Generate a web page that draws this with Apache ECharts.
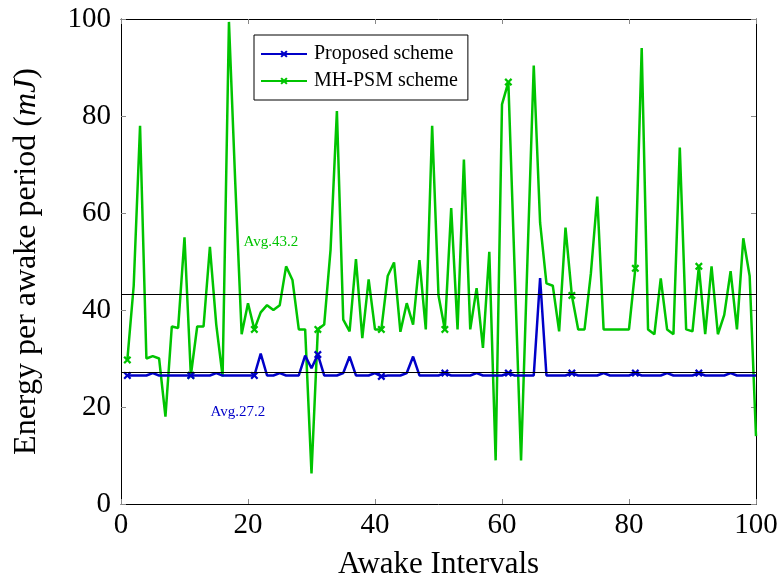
<!DOCTYPE html>
<html>
<head>
<meta charset="utf-8">
<script src="https://cdn.jsdelivr.net/npm/echarts@6/dist/echarts.min.js"></script>
<style>html,body{margin:0;padding:0;background:#fff}#c{width:783px;height:585px}</style>
</head>
<body>
<div id="c"></div>
<script>
// Awake interval indices 1..100
const intervals = [];
for (let i = 1; i <= 100; i++) intervals.push(i);

const proposed = [
  26.5, 26.5, 26.5, 26.5, 27.0, 26.5, 26.5, 26.5, 26.5, 26.5,
  26.5, 26.5, 26.5, 26.5, 27.0, 26.5, 26.5, 26.5, 26.5, 26.5,
  26.5, 31.0, 26.5, 26.5, 27.0, 26.5, 26.5, 26.5, 30.6, 28.0,
  30.8, 26.5, 26.5, 26.5, 27.0, 30.4, 26.5, 26.5, 26.5, 27.0,
  26.3, 26.5, 26.5, 26.5, 27.0, 30.4, 26.5, 26.5, 26.5, 26.5,
  27.0, 26.5, 26.5, 26.5, 26.5, 27.0, 26.5, 26.5, 26.5, 26.5,
  27.0, 26.5, 26.5, 26.5, 26.5, 46.6, 26.5, 26.5, 26.5, 26.5,
  27.0, 26.5, 26.5, 26.5, 26.5, 27.0, 26.5, 26.5, 26.5, 26.5,
  27.0, 26.5, 26.5, 26.5, 26.5, 27.0, 26.5, 26.5, 26.5, 26.5,
  27.0, 26.5, 26.5, 26.5, 26.5, 27.0, 26.5, 26.5, 26.5, 26.5
];

const mhpsm = [
  29.7, 45.0, 78.0, 30.0, 30.5, 30.0, 18.0, 36.6, 36.3, 55.0,
  26.5, 36.6, 36.6, 53.0, 37.0, 26.3, 99.4, 66.0, 35.0, 41.4,
  36.0, 39.5, 41.0, 40.0, 41.0, 49.0, 46.2, 36.0, 36.0, 6.3,
  36.0, 37.0, 52.4, 81.0, 38.0, 35.6, 50.5, 34.2, 46.3, 36.0,
  36.0, 47.0, 49.8, 35.5, 41.4, 37.0, 50.3, 36.0, 78.0, 43.0,
  36.0, 61.0, 36.0, 71.0, 36.0, 44.5, 32.2, 52.0, 9.0, 82.4,
  87.0, 48.0, 9.0, 50.0, 90.4, 58.0, 45.5, 45.0, 35.6, 57.0,
  43.0, 36.0, 36.0, 47.6, 63.4, 36.0, 36.0, 36.0, 36.0, 36.0,
  48.6, 94.0, 36.0, 35.0, 46.5, 36.0, 35.0, 73.5, 36.0, 35.6,
  49.0, 35.0, 49.0, 35.0, 39.0, 48.0, 36.0, 54.8, 47.0, 14.0
];

const avgProposed = 27.2;
const avgMhpsm = 43.2;
const xTicks = [0, 20, 40, 60, 80, 100];
const yTicks = [0, 20, 40, 60, 80, 100];

const BLUE = '#0000c8';
const GREEN = '#00c400';
const FONT = '"Liberation Serif", "DejaVu Serif", serif';
const XSYM = 'path://M2,0 L5,3 L8,0 L10,2 L7,5 L10,8 L8,10 L5,7 L2,10 L0,8 L3,5 L0,2 Z';

function buildData(vals) {
  return vals.map((v, i) => {
    const item = { value: [intervals[i], v] };
    if (i % 10 !== 0) item.symbol = 'none';
    return item;
  });
}

const chart = echarts.init(document.getElementById('c'), null, { renderer: 'canvas' });

const axisCommon = {
  type: 'value', min: 0, max: 100, interval: 20,
  splitLine: { show: false },
  axisLine: { show: true, onZero: false, lineStyle: { color: '#000', width: 1 } },
  axisTick: { show: true, inside: true, length: 5, lineStyle: { color: '#888', width: 1 } }
};

chart.setOption({
  animation: false,
  backgroundColor: '#fff',
  grid: { left: 121, right: 27, top: 19, bottom: 80, containLabel: false },
  legend: {
    orient: 'vertical',
    left: 254, top: 35,
    padding: [9, 10, 9, 6],
    itemGap: 7,
    itemWidth: 46, itemHeight: 9,
    borderColor: '#000', borderWidth: 1,
    backgroundColor: '#fff',
    textStyle: { fontFamily: FONT, fontSize: 20, color: '#000', padding: [0, 0, 0, 2] },
    data: ['Proposed scheme', 'MH-PSM scheme']
  },
  xAxis: [
    Object.assign({}, axisCommon, {
      position: 'bottom',
      name: 'Awake Intervals', nameLocation: 'middle', nameGap: 45,
      nameTextStyle: { fontFamily: FONT, fontSize: 31, color: '#000' },
      axisLabel: { fontFamily: FONT, fontSize: 29, color: '#000', margin: 7,
        formatter: v => xTicks.includes(v) ? String(v) : '' }
    }),
    Object.assign({}, axisCommon, { position: 'top', axisLabel: { show: false } })
  ],
  yAxis: [
    Object.assign({}, axisCommon, {
      position: 'left',
      name: 'Energy per awake period ({i|mJ})', nameLocation: 'middle', nameGap: 78,
      nameTextStyle: { fontFamily: FONT, fontSize: 32, color: '#000',
        rich: { i: { fontFamily: FONT, fontSize: 32, fontStyle: 'italic', color: '#000' } } },
      axisLabel: { fontFamily: FONT, fontSize: 29, color: '#000', margin: 10,
        formatter: v => yTicks.includes(v) ? String(v) : '' }
    }),
    Object.assign({}, axisCommon, { position: 'right', axisLabel: { show: false } })
  ],
  series: [
    {
      name: 'Proposed scheme', type: 'line',
      data: buildData(proposed),
      color: BLUE,
      symbol: XSYM, symbolSize: 8, showSymbol: true, showAllSymbol: true,
      lineStyle: { color: BLUE, width: 2.5 },
      itemStyle: { color: BLUE },
      z: 4,
      markLine: {
        silent: true, symbol: 'none', animation: false,
        lineStyle: { color: '#000', width: 1, type: 'solid' },
        label: { show: false },
        data: [{ yAxis: avgProposed }]
      },
      markPoint: {
        symbol: 'circle', symbolSize: 0,
        label: { show: true, position: 'right', distance: 0, color: BLUE,
          fontFamily: FONT, fontSize: 15, formatter: 'Avg.' + avgProposed },
        data: [{ coord: [14.1, 19.0] }]
      }
    },
    {
      name: 'MH-PSM scheme', type: 'line',
      data: buildData(mhpsm),
      color: GREEN,
      symbol: XSYM, symbolSize: 8, showSymbol: true, showAllSymbol: true,
      lineStyle: { color: GREEN, width: 2.5 },
      itemStyle: { color: GREEN },
      z: 3,
      markLine: {
        silent: true, symbol: 'none', animation: false,
        lineStyle: { color: '#000', width: 1, type: 'solid' },
        label: { show: false },
        data: [{ yAxis: avgMhpsm }]
      },
      markPoint: {
        symbol: 'circle', symbolSize: 0,
        label: { show: true, position: 'right', distance: 0, color: GREEN,
          fontFamily: FONT, fontSize: 15, formatter: 'Avg.' + avgMhpsm },
        data: [{ coord: [19.3, 54.0] }]
      }
    }
  ]
});
</script>
</body>
</html>
